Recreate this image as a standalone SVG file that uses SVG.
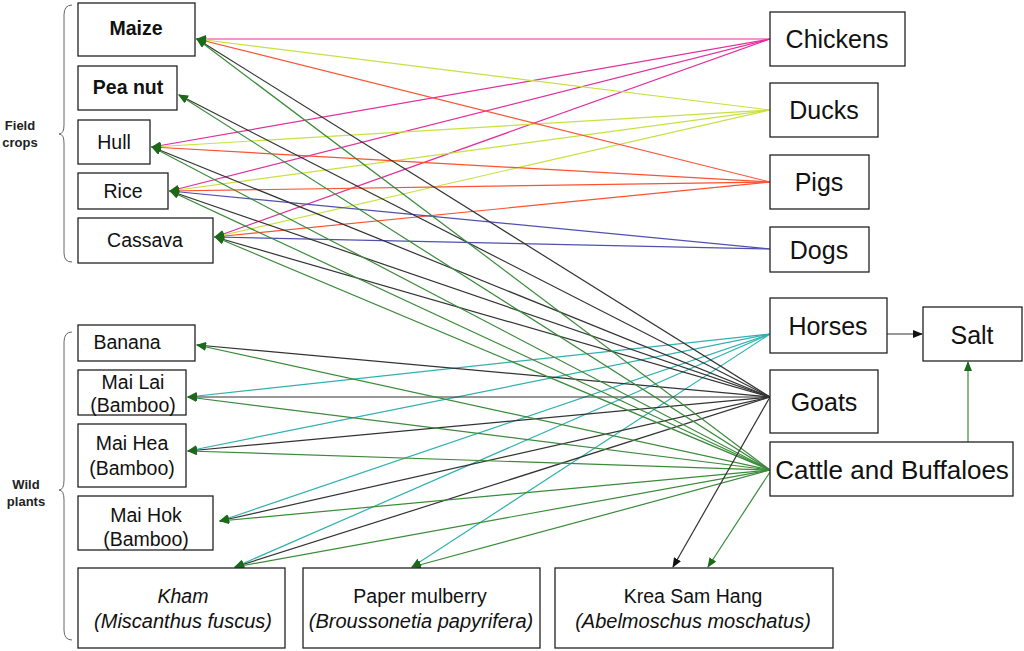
<svg xmlns="http://www.w3.org/2000/svg" width="1024" height="651" viewBox="0 0 1024 651">
<style>
.n rect{fill:#fff;stroke:#222;stroke-width:1.3}
.n text{font-family:"Liberation Sans",Arial,sans-serif;font-size:19.5px;fill:#111;text-anchor:middle}
.b{font-weight:bold;font-size:16px}
.i{font-style:italic}
.r text{font-size:25px}
.lbl{font-family:"Liberation Sans",Arial,sans-serif;font-weight:bold;font-size:13px;fill:#222;text-anchor:middle}
#c line{stroke-width:1.2}
.ch{stroke:#e0309f}.du{stroke:#c8e040}.pi{stroke:#ff5030}.dg{stroke:#5050b0}.ho{stroke:#30b0b0}.go{stroke:#333}.ca{stroke:#3a8a3a}
.brace{fill:none;stroke:#666;stroke-width:1}
</style>
<defs>
<marker id="g" markerWidth="10" markerHeight="8" refX="9" refY="4" orient="auto" markerUnits="userSpaceOnUse"><path d="M0,0L10,4L0,8z" fill="#1a6a1a"/></marker>
<marker id="k" markerWidth="10" markerHeight="8" refX="9" refY="4" orient="auto" markerUnits="userSpaceOnUse"><path d="M0,0L10,4L0,8z" fill="#111"/></marker>
</defs>
<path class="brace" d="M72,5 Q64,5 64,15 L64,125 Q64,134 59,134 Q64,134 64,143 L64,253 Q64,262 72,262"/>
<path class="brace" d="M72,332 Q64,332 64,342 L64,480 Q64,490 59,490 Q64,490 64,500 L64,630 Q64,640 72,640"/>
<text class="lbl" x="20" y="130">Field</text><text class="lbl" x="20" y="147">crops</text>
<text class="lbl" x="26" y="489">Wild</text><text class="lbl" x="26" y="506">plants</text>
<g id="c">
<g marker-end="url(#g)">
<line class="ch" x1="770" y1="39" x2="197" y2="39"/><line class="ch" x1="770" y1="39" x2="152" y2="147"/><line class="ch" x1="770" y1="39" x2="170" y2="191"/><line class="ch" x1="770" y1="39" x2="215" y2="237"/>
<line class="du" x1="770" y1="110" x2="197" y2="39"/><line class="du" x1="770" y1="110" x2="152" y2="147"/><line class="du" x1="770" y1="110" x2="170" y2="191"/><line class="du" x1="770" y1="110" x2="215" y2="237"/>
<line class="pi" x1="770" y1="182" x2="197" y2="39"/><line class="pi" x1="770" y1="182" x2="152" y2="147"/><line class="pi" x1="770" y1="182" x2="170" y2="191"/><line class="pi" x1="770" y1="182" x2="215" y2="237"/>
<line class="dg" x1="770" y1="249" x2="170" y2="191"/><line class="dg" x1="770" y1="249" x2="215" y2="237"/>
<line class="ho" x1="770" y1="334" x2="188" y2="397"/><line class="ho" x1="770" y1="334" x2="188" y2="451"/><line class="ho" x1="770" y1="334" x2="220" y2="521"/><line class="ho" x1="770" y1="334" x2="235" y2="567"/><line class="ho" x1="770" y1="334" x2="412" y2="567"/>
<line class="go" x1="770" y1="397" x2="197" y2="39"/><line class="go" x1="770" y1="397" x2="179" y2="95"/><line class="go" x1="770" y1="397" x2="152" y2="147"/><line class="go" x1="770" y1="397" x2="170" y2="191"/><line class="go" x1="770" y1="397" x2="215" y2="237"/><line class="go" x1="770" y1="397" x2="197" y2="345"/><line class="go" x1="770" y1="397" x2="188" y2="397"/><line class="go" x1="770" y1="397" x2="188" y2="451"/><line class="go" x1="770" y1="397" x2="220" y2="521"/><line class="go" x1="770" y1="397" x2="235" y2="567"/>
<line class="ca" x1="770" y1="470" x2="197" y2="39"/><line class="ca" x1="770" y1="470" x2="179" y2="95"/><line class="ca" x1="770" y1="470" x2="152" y2="147"/><line class="ca" x1="770" y1="470" x2="170" y2="191"/><line class="ca" x1="770" y1="470" x2="215" y2="237"/><line class="ca" x1="770" y1="470" x2="197" y2="345"/><line class="ca" x1="770" y1="470" x2="188" y2="397"/><line class="ca" x1="770" y1="470" x2="188" y2="451"/><line class="ca" x1="770" y1="470" x2="220" y2="521"/><line class="ca" x1="770" y1="470" x2="235" y2="567"/><line class="ca" x1="770" y1="470" x2="412" y2="567"/>
<line class="ca" x1="770" y1="472" x2="708" y2="567"/>
<line class="ca" x1="968" y1="442" x2="968" y2="362"/>
</g>
<line class="go" x1="770" y1="397" x2="673" y2="567" marker-end="url(#k)"/>
<line class="go" x1="887" y1="334" x2="922" y2="334" marker-end="url(#k)"/>
</g>
<g id="maize" class="n"><rect x="78" y="3" width="117" height="53"/><text class="b" x="136" y="35">Maize</text></g>
<g id="peanut" class="n"><rect x="78" y="66" width="99" height="44"/><text class="b" x="128" y="94">Pea nut</text></g>
<g id="hull" class="n"><rect x="78" y="120" width="72" height="44"/><text x="114" y="149">Hull</text></g>
<g id="rice" class="n"><rect x="78" y="173" width="90" height="36"/><text x="123" y="198">Rice</text></g>
<g id="cassava" class="n"><rect x="78" y="218" width="135" height="45"/><text x="145" y="247">Cassava</text></g>
<g id="banana" class="n"><rect x="78" y="325" width="117" height="36"/><text x="127" y="349">Banana</text></g>
<g id="mailai" class="n"><rect x="78" y="370" width="108" height="45"/><text x="133" y="389">Mai Lai</text><text x="133" y="412">(Bamboo)</text></g>
<g id="maihea" class="n"><rect x="78" y="424" width="108" height="63"/><text x="132" y="450">Mai Hea</text><text x="132" y="475">(Bamboo)</text></g>
<g id="maihok" class="n"><rect x="78" y="496" width="135" height="54"/><text x="146" y="522">Mai Hok</text><text x="146" y="546">(Bamboo)</text></g>
<g id="kham" class="n"><rect x="78" y="568" width="207" height="80"/><text class="i" x="183" y="603">Kham</text><text class="i" x="183" y="628" style="font-size:20px">(Miscanthus fuscus)</text></g>
<g id="papermulberry" class="n"><rect x="303" y="568" width="237" height="80"/><text x="420" y="603">Paper mulberry</text><text class="i" x="421" y="628" style="font-size:20px">(Broussonetia papyrifera)</text></g>
<g id="krea" class="n"><rect x="555" y="568" width="278" height="80"/><text x="693" y="603">Krea Sam Hang</text><text class="i" x="693" y="628" style="font-size:20px">(Abelmoschus moschatus)</text></g>
<g class="r">
<g id="chickens" class="n"><rect x="770" y="12" width="135" height="54"/><text x="837" y="48">Chickens</text></g>
<g id="ducks" class="n"><rect x="770" y="83" width="108" height="54"/><text x="824" y="119">Ducks</text></g>
<g id="pigs" class="n"><rect x="770" y="155" width="99" height="54"/><text x="819" y="191">Pigs</text></g>
<g id="dogs" class="n"><rect x="770" y="227" width="99" height="45"/><text x="819" y="259">Dogs</text></g>
<g id="horses" class="n"><rect x="770" y="298" width="117" height="55"/><text x="828" y="335">Horses</text></g>
<g id="goats" class="n"><rect x="770" y="370" width="108" height="63"/><text x="824" y="411">Goats</text></g>
<g id="cattle" class="n"><rect x="770" y="442" width="243" height="54"/><text x="892" y="479" style="font-size:26px">Cattle and Buffaloes</text></g>
<g id="salt" class="n"><rect x="923" y="307" width="99" height="54"/><text x="972" y="344">Salt</text></g>
</g>
</svg>
